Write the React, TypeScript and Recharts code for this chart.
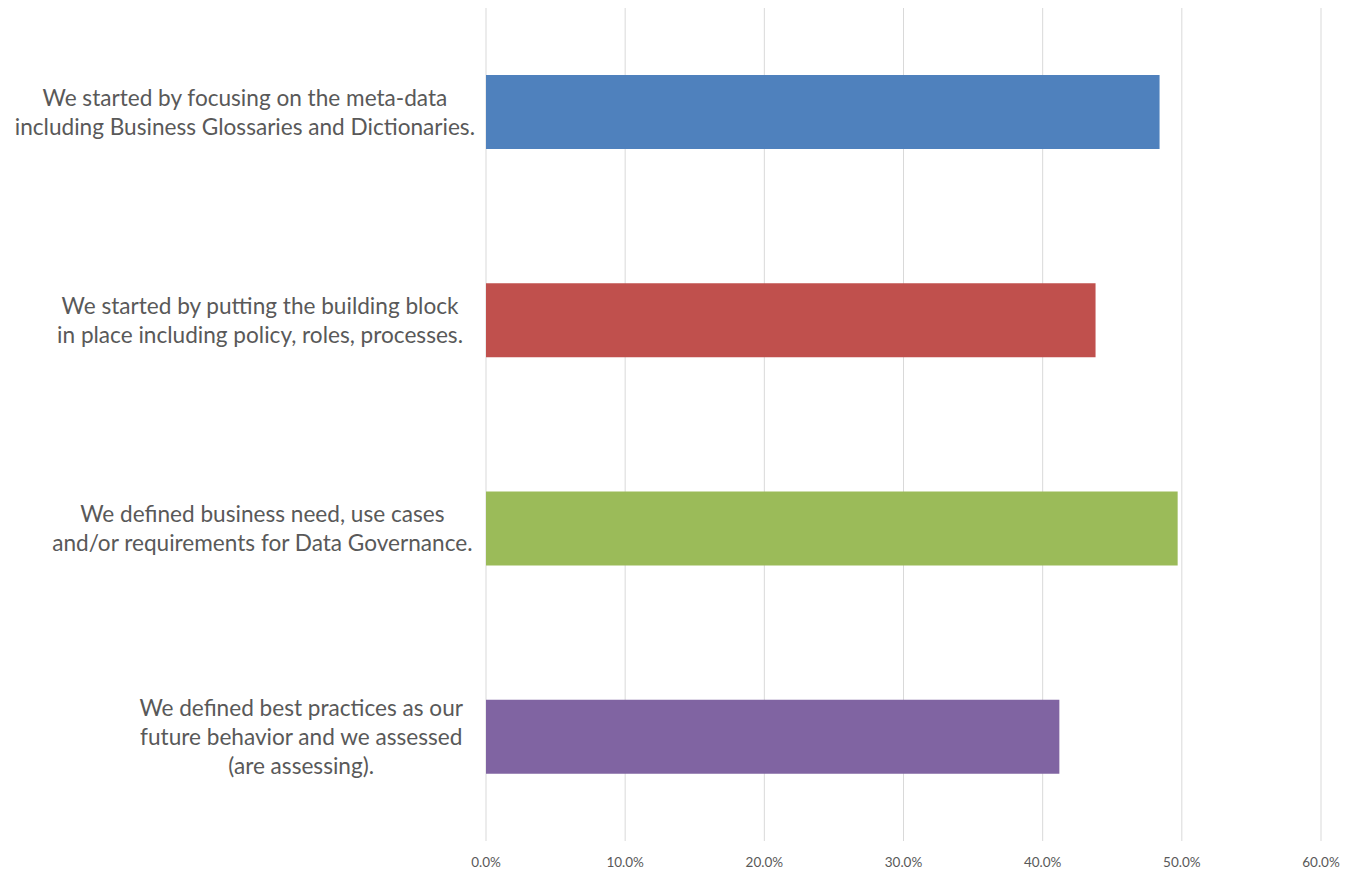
import React from 'react';
import { BarChart, Bar, XAxis, YAxis, CartesianGrid, Cell } from 'recharts';

if (typeof document !== 'undefined') document.body.style.margin = '0';

const categories = [
  'We started by focusing on the meta-data\nincluding Business Glossaries and Dictionaries.',
  'We started by putting the building block\nin place including policy, roles, processes.',
  'We defined business need, use cases\nand/or requirements for Data Governance.',
  'We defined best practices as our\nfuture behavior and we assessed\n(are assessing).',
];
const values = [48.4, 43.8, 49.7, 41.2];
const colors = ['#4F81BD', '#C0504D', '#9BBB59', '#8064A2'];
const xTicks = [0, 10, 20, 30, 40, 50, 60];

// right edge of each label block (layout)
const labelRight = [475, 463, 473, 463];

const data = categories.map((c, i) => ({ name: c, value: values[i] }));

const FONT_FAMILY = 'Lato';
const FONT_SIZE = 22.6;
let ctx: CanvasRenderingContext2D | null = null;
function measure(s: string): number {
  if (!ctx) {
    ctx = document.createElement('canvas').getContext('2d');
  }
  if (!ctx) return s.length * FONT_SIZE * 0.5;
  ctx.font = `${FONT_SIZE}px ${FONT_FAMILY}`;
  return ctx.measureText(s).width;
}

const YTick = (props: any) => {
  const { y, payload, index } = props;
  const lines: string[] = String(payload.value).split('\n');
  const w = Math.max(...lines.map(measure));
  const right = labelRight[index] ?? 475;
  const cx = right - w / 2;
  const lh = 29;
  const startY = y - ((lines.length - 1) * lh) / 2;
  return (
    <text textAnchor="middle" fill="#595959" fontSize={FONT_SIZE} fontFamily={FONT_FAMILY}>
      {lines.map((l, i) => (
        <tspan key={i} x={cx} y={startY + i * lh} dy="0.35em">
          {l}
        </tspan>
      ))}
    </text>
  );
};

export default function App() {
  return (
    <div style={{ width: 1359, height: 885, background: '#fff' }}>
      <BarChart
        width={1359}
        height={885}
        data={data}
        layout="vertical"
        margin={{ top: 8, right: 38, left: 0, bottom: 0 }}
        barSize={74}
      >
        <CartesianGrid horizontal={false} stroke="#d9d9d9" strokeWidth={1} />
        <XAxis
          type="number"
          domain={[0, 60]}
          ticks={xTicks}
          tickFormatter={(v: number) => `${v.toFixed(1)}%`}
          axisLine={false}
          tickLine={false}
          tickSize={0}
          tickMargin={16}
          height={44}
          tick={{ fill: '#595959', fontSize: 13.5, fontFamily: 'Lato' }}
          interval={0}
        />
        <YAxis
          type="category"
          dataKey="name"
          width={486}
          axisLine={false}
          tickLine={false}
          tick={<YTick />}
          interval={0}
        />
        <Bar dataKey="value" isAnimationActive={false}>
          {data.map((d, i) => (
            <Cell key={i} fill={colors[i]} />
          ))}
        </Bar>
      </BarChart>
    </div>
  );
}
